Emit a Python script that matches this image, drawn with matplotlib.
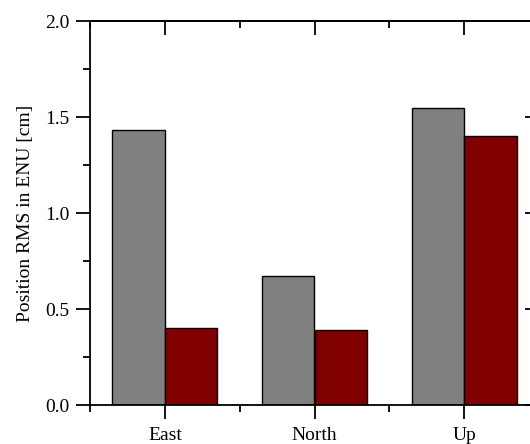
import matplotlib
matplotlib.use("Agg")
import matplotlib.pyplot as plt
import numpy as np

categories = ["East", "North", "Up"]
series_gray = [1.43, 0.67, 1.545]
series_red = [0.40, 0.39, 1.40]
yticks = [0.0, 0.5, 1.0, 1.5, 2.0]

plt.rcParams['font.family'] = ['Liberation Serif', 'DejaVu Serif']
plt.rcParams['font.size'] = 14

W, H = 530, 444
fig = plt.figure(figsize=(W/100, H/100), dpi=100)
ax = fig.add_axes([90/W, (H-405)/H, (539-90)/W, (405-21)/H])

x = np.arange(len(categories))
bw = 0.35
ax.bar(x - bw/2, series_gray, bw, color="#808080", edgecolor="black", linewidth=1.0, zorder=2)
ax.bar(x + bw/2, series_red, bw, color="#800000", edgecolor="black", linewidth=1.0, zorder=2)

ax.set_xlim(-0.5, 2.5)
ax.set_ylim(0, 2.0)
ax.set_xticks(x)
ax.set_xticklabels(categories)
ax.set_xticks([-0.5, 0.5, 1.5, 2.5], minor=True)
ax.set_yticks(yticks)
ax.set_yticklabels([f"{v:.1f}" for v in yticks])
ax.set_yticks(np.arange(0.25, 2.0, 0.5), minor=True)

lw = 1.3
for s in ax.spines.values():
    s.set_linewidth(lw)

ax.tick_params(axis='both', which='major', direction='out', length=10, width=lw, labelsize=14)
ax.tick_params(axis='both', which='minor', direction='out', length=5, width=lw)
ax.tick_params(axis='x', pad=6)
ax.tick_params(axis='y', pad=4.5)

top = ax.secondary_xaxis('top')
top.set_xticks(x)
top.set_xticks([-0.5, 0.5, 1.5, 2.5], minor=True)
top.tick_params(which='major', direction='in', length=10, width=lw, labeltop=False)
top.tick_params(which='minor', direction='in', length=5, width=lw)
top.spines['top'].set_linewidth(lw)

right = ax.secondary_yaxis('right')
right.set_yticks(yticks)
right.set_yticks(np.arange(0.25, 2.0, 0.5), minor=True)
right.tick_params(which='major', direction='in', length=10, width=lw, labelright=False)
right.tick_params(which='minor', direction='in', length=5, width=lw)
right.spines['right'].set_linewidth(lw)

ax.set_ylabel("Position RMS in ENU [cm]", fontsize=14, labelpad=8)

fig.savefig("out.png", dpi=100)
